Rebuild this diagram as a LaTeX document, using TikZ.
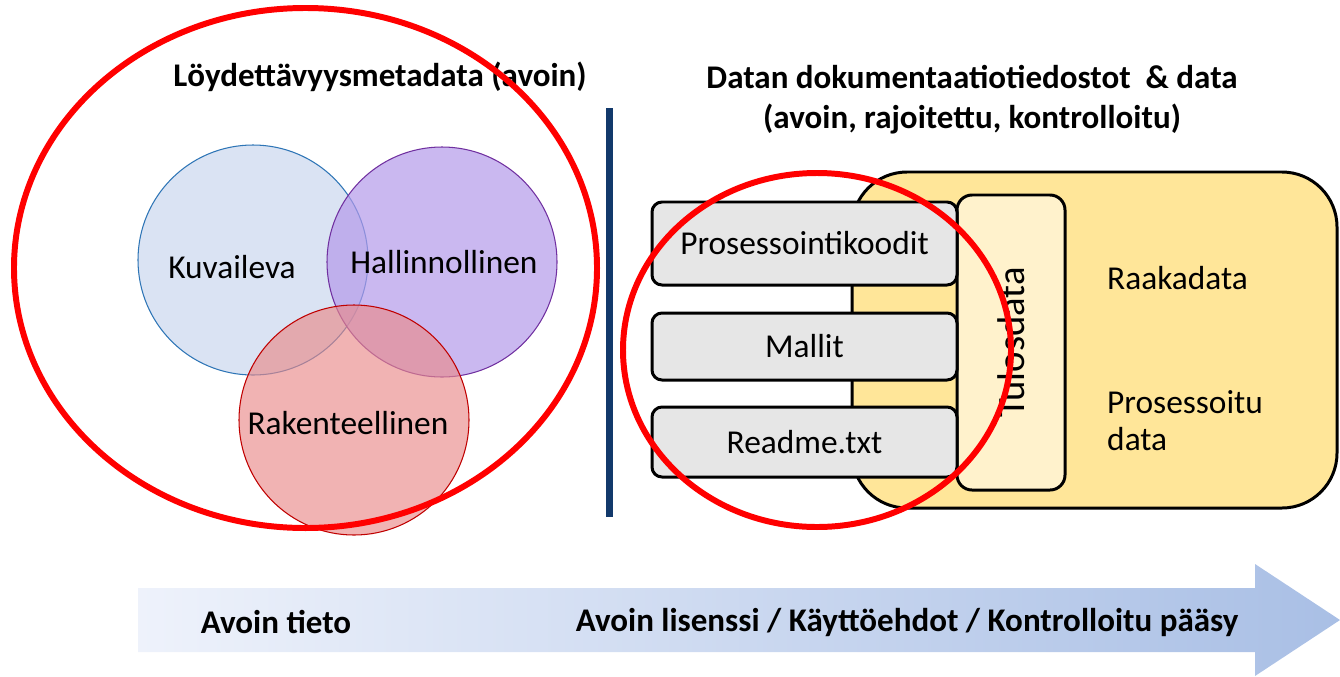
\documentclass[tikz,border=0pt]{standalone}
\usepackage{fontspec}
\setmainfont{Carlito}
\definecolor{kuvfill}{HTML}{DAE3F3}
\definecolor{kuvline}{HTML}{2E75B6}
\definecolor{halfill}{HTML}{B49AEA}
\definecolor{halline}{HTML}{7030A0}
\definecolor{rakfill}{HTML}{E98A8A}
\definecolor{rakline}{HTML}{C00000}
\definecolor{datayellow}{HTML}{FFE699}
\definecolor{tuloslight}{HTML}{FFF2CC}
\definecolor{boxgray}{HTML}{E6E6E6}
\definecolor{navy}{HTML}{12396B}
\definecolor{arrowL}{HTML}{EEF2FB}
\definecolor{arrowR}{HTML}{A9BFE5}

\begin{document}
\begin{tikzpicture}[x=0.2mm, y=-0.2mm,
	txt/.style={font=\fontsize{19}{21}\selectfont},
	head/.style={font=\fontsize{18.8}{22.7}\selectfont\bfseries, align=center},
	venn/.style={circle, minimum size=4.6cm, line width=0.6pt, fill opacity=0.7},
	filebox/.style={draw, line width=1.7pt, rounded corners=0.2cm, fill=boxgray, minimum width=6.1cm, txt},
	ring/.style={draw=red, line width=3.4pt}]
\useasboundingbox (0,0) rectangle (1340,676);

% vasen puoli: metadata
\node[head] (metatitle) at (380,77) {Löydettävyysmetadata (avoin)};
\node[venn, fill=kuvfill, draw=kuvline, fill opacity=1] (kuv) at (253,260) {};
\node[venn, fill=halfill, draw=halline] (hal) at (442,262) {};
\node[venn, fill=rakfill, draw=rakline, fill opacity=0.65] (rak) at (354,420) {};
\node[txt] (kuvtxt) at (232,267) {Kuvaileva};
\node[txt] (haltxt) at (444,262) {Hallinnollinen};
\node[txt] (raktxt) at (348,423) {Rakenteellinen};
\draw[ring] (305.5,268) ellipse [x radius=5.83cm, y radius=5.2cm];

\draw[navy, line width=4pt] (609.5,108) -- (609.5,517);

% oikea puoli: dokumentaatio ja data
\node[head] (datatitle) at (972,100) {Datan dokumentaatiotiedostot \ \& data\\(avoin, rajoitettu, kontrolloitu)};
\node[draw, line width=1.7pt, fill=datayellow, rounded corners=1.1cm,
	minimum width=9.7cm, minimum height=6.72cm] (data) at (1094.5,340) {};
\node[draw, line width=1.7pt, fill=tuloslight, rounded corners=0.3cm, rotate=90,
	minimum width=5.9cm, minimum height=2.16cm, font=\fontsize{22}{24}\selectfont] (tulos) at (1011,342.5) {Tulosdata};
\node[filebox, minimum height=1.66cm] (koodit) at (804.5,243.5) {Prosessointikoodit};
\node[filebox, minimum height=1.34cm] (mallit) at (804.5,346.5) {Mallit};
\node[filebox, minimum height=1.4cm] (readme) at (804.5,442) {Readme.txt};
\node[txt, anchor=west] (raaka) at (1101,278) {Raakadata};
\node[txt, anchor=west, align=left] (prosessoitu) at (1101,421) {Prosessoitu\\data};
\draw[ring] (817,350) ellipse [x radius=3.88cm, y radius=3.54cm];

% nuoli
\shade[left color=arrowL, right color=arrowR] (138,588) -- (1255,588) -- (1255,564)
	-- (1340,620) -- (1255,676) -- (1255,652) -- (138,652) -- cycle;
\node[head] (avoin) at (276,622) {Avoin tieto};
\node[head] (lisenssi) at (907,622) {Avoin lisenssi / Käyttöehdot / Kontrolloitu pääsy};
\end{tikzpicture}
\end{document}
